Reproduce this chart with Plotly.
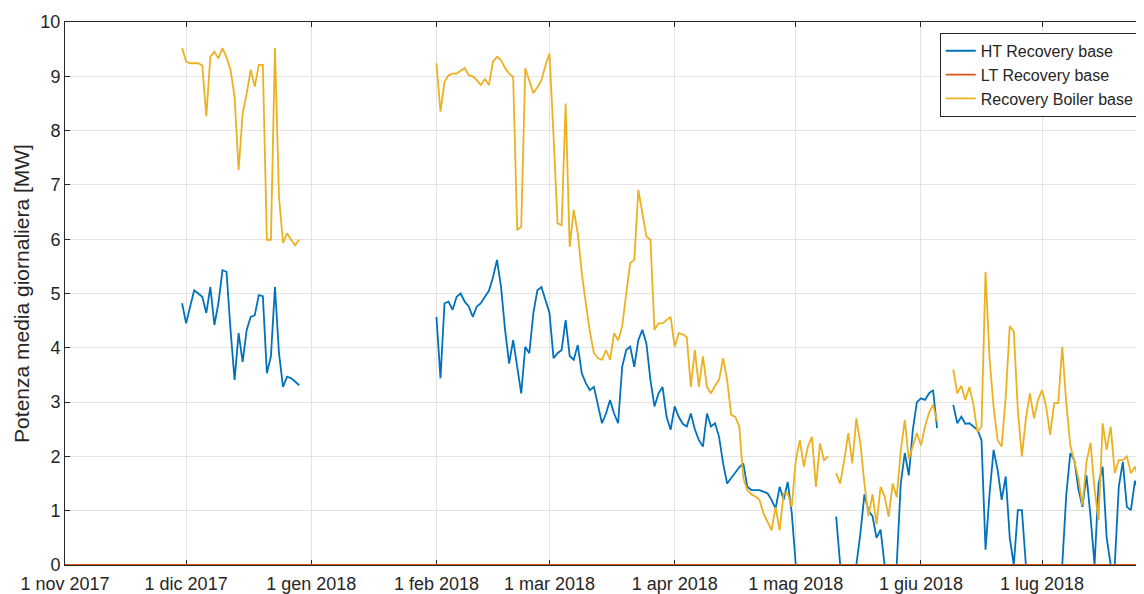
import pandas as pd
import plotly.graph_objects as go

# ---------------- data ----------------
# December block: daily values starting 2017-11-30
dec_start = "2017-11-30"
ht_dec = [4.82, 4.45, 4.76, 5.06, 5.0, 4.94, 4.64, 5.12, 4.42, 4.82,
          5.43, 5.4, 4.33, 3.41, 4.27, 3.74, 4.33, 4.57, 4.6, 4.97,
          4.95, 3.53, 3.84, 5.12, 3.9, 3.28, 3.47, 3.44, 3.38, 3.31]
boiler_dec = [9.52, 9.27, 9.24, 9.24, 9.24, 9.2, 8.26, 9.36, 9.45, 9.33,
              9.52, 9.35, 9.12, 8.62, 7.27, 8.32, 8.68, 9.12, 8.81, 9.21,
              9.21, 5.99, 5.99, 9.52, 6.78, 5.93, 6.11, 5.99, 5.89, 5.99]

# February-July block: daily values starting 2018-02-01 (None = missing)
feb_start = "2018-02-01"
ht_feb = [4.57, 3.44, 4.82, 4.85, 4.7, 4.94, 5.0, 4.85, 4.76, 4.57,
          4.76, 4.82, 4.94, 5.05, 5.3, 5.62, 5.12, 4.33, 3.71, 4.14,
          3.65, 3.16, 4.02, 3.9, 4.64, 5.06, 5.12, 4.9, 4.64, 3.81,
          3.9, 3.96, 4.51, 3.85, 3.78, 4.05, 3.53, 3.35, 3.22, 3.28,
          2.92, 2.61, 2.79, 3.04, 2.79, 2.61, 3.65, 3.96, 4.02, 3.65,
          4.14, 4.33, 4.08, 3.41, 2.92, 3.16, 3.28, 2.73, 2.49, 2.92,
          2.73, 2.6, 2.55, 2.79, 2.5, 2.3, 2.18, 2.79, 2.55, 2.61,
          2.36, 1.87, 1.5, 1.6, 1.7, 1.8, 1.87, 1.44, 1.38, 1.38,
          1.38, 1.35, 1.32, 1.2, 1.04, 1.44, 1.2, 1.53, 0.96, 0,
          0, 0, 0, 0, 0, 0, 0, 0, None, 0.89,
          0, 0, 0, 0, 0, 0.58, 1.3, 1.0, 0.9, 0.5,
          0.65, 0, 0, 0, 0, 1.5, 2.06, 1.65, 2.5, 3.0,
          3.07, 3.04, 3.16, 3.22, 2.52, None, None, None, 2.95, 2.61,
          2.73, 2.6, 2.61, 2.55, 2.49, 2.3, 0.28, 1.32, 2.12, 1.75,
          1.2, 1.63, 0.5, 0, 1.01, 1.01, 0, 0, 0, 0,
          0, 0, 0, 0, 0, 0, 1.3, 2.06, 1.93, 1.4,
          1.07, 1.65, 0.9, 0, 1.5, 1.81, 0.5, 0, 0, 1.44,
          1.9, 1.07, 1.01, 1.55, 1.35, 1.8]
boiler_feb = [9.24, 8.35, 8.9, 9.02, 9.05, 9.05, 9.1, 9.15, 9.02, 9.0,
              8.93, 8.84, 8.95, 8.84, 9.27, 9.36, 9.3, 9.15, 9.05, 8.99,
              6.17, 6.23, 9.15, 8.9, 8.69, 8.8, 8.93, 9.2, 9.42, 7.9,
              6.29, 6.26, 8.5, 5.86, 6.54, 6.11, 5.37, 4.82, 4.3, 3.9,
              3.81, 3.78, 3.96, 3.78, 4.27, 4.14, 4.39, 5.0, 5.56, 5.62,
              6.91, 6.48, 6.05, 5.99, 4.33, 4.45, 4.45, 4.51, 4.57, 4.02,
              4.27, 4.25, 4.2, 3.28, 3.96, 3.28, 3.84, 3.28, 3.16, 3.3,
              3.41, 3.81, 3.41, 2.76, 2.73, 2.55, 1.6, 1.38, 1.3, 1.26,
              1.2, 0.95, 0.8, 0.64, 1.07, 0.64, 1.32, 1.32, 1.07, 1.93,
              2.3, 1.81, 2.18, 2.36, 1.44, 2.24, 1.93, 2.0, None, 1.69,
              1.5, 1.93, 2.43, 1.87, 2.7, 2.24, 1.5, 0.9, 1.3, 0.75,
              1.44, 1.26, 0.89, 1.5, 1.25, 2.1, 2.67, 1.95, 2.2, 2.43,
              2.2, 2.55, 2.8, 2.95, 2.65, None, None, None, 3.6, 3.16,
              3.3, 3.04, 3.28, 2.95, 2.45, 2.55, 5.4, 3.8, 2.9, 2.3,
              2.18, 3.1, 4.4, 4.3, 2.85, 2.0, 2.7, 3.16, 2.7, 3.04,
              3.22, 2.92, 2.4, 2.98, 2.98, 4.02, 2.98, 2.2, 1.9, 1.6,
              1.1, 1.9, 2.25, 1.4, 0.83, 2.61, 2.12, 2.55, 1.69, 1.93,
              1.93, 2.0, 1.69, 1.81, 1.6, 1.8]

# LT recovery: zero over the whole period
lt_start = "2017-11-01"
lt_end = "2018-07-26"
lt_level = 0.0

tick_dates = ["2017-11-01", "2017-12-01", "2018-01-01", "2018-02-01", "2018-03-01",
              "2018-04-01", "2018-05-01", "2018-06-01", "2018-07-01"]
tick_labels = ["1 nov 2017", "1 dic 2017", "1 gen 2018", "1 feb 2018", "1 mar 2018",
               "1 apr 2018", "1 mag 2018", "1 giu 2018", "1 lug 2018"]
y_ticks = list(range(0, 11))

series_names = ["HT Recovery base", "LT Recovery base", "Recovery Boiler base"]
# --------------------------------------

def block_series(start, dec_vals, start2, feb_vals):
    s1 = pd.Series(dec_vals, index=pd.date_range(start, periods=len(dec_vals), freq="D"))
    s2 = pd.Series(feb_vals, index=pd.date_range(start2, periods=len(feb_vals), freq="D"), dtype=float)
    full_idx = pd.date_range(s1.index[0], s2.index[-1], freq="D")
    return pd.concat([s1, s2]).reindex(full_idx)

ht = block_series(dec_start, ht_dec, feb_start, ht_feb)
boiler = block_series(dec_start, boiler_dec, feb_start, boiler_feb)
lt_idx = pd.date_range(lt_start, lt_end, freq="D")
lt = pd.Series([lt_level] * len(lt_idx), index=lt_idx)

def vals(s):
    return [None if pd.isna(v) else float(v) for v in s.values]

colors = ["#0072BD", "#D95319", "#EDB120"]
FONT = "Liberation Sans, Arial, Helvetica, sans-serif"
TXT = "#262626"

fig = go.Figure()
for name, s, c in zip(series_names, [ht, lt, boiler], colors):
    fig.add_trace(go.Scatter(x=list(s.index), y=vals(s), mode="lines", name=name,
                             line=dict(color=c, width=1.8), connectgaps=False))

# page body has an 8px margin, so the figure is sized/offset to compensate
fig.update_layout(
    width=1136, height=586,
    margin=dict(l=57, r=1, t=14, b=29),
    paper_bgcolor="white", plot_bgcolor="white",
    font=dict(family=FONT, color=TXT, size=18),
    showlegend=True,
    legend=dict(x=0.997, y=0.98, xanchor="right", yanchor="top",
                bgcolor="white", bordercolor=TXT, borderwidth=1,
                font=dict(size=16, color=TXT), tracegroupgap=0,
                itemwidth=30),
    xaxis=dict(range=["2017-11-01", lt_end], tickvals=tick_dates, ticktext=tick_labels,
               showgrid=True, gridcolor="#e3e3e3", gridwidth=1,
               showline=True, linecolor=TXT, linewidth=1, mirror="ticks",
               ticks="inside", ticklen=5, tickcolor=TXT, zeroline=False,
               tickfont=dict(size=18, color=TXT), layer="below traces",
               automargin=False, ticklabelstandoff=2),
    yaxis=dict(range=[0, 10], tickvals=y_ticks, ticktext=[str(v) for v in y_ticks],
               showgrid=True, gridcolor="#e3e3e3", gridwidth=1,
               showline=True, linecolor=TXT, linewidth=1, mirror="ticks",
               ticks="inside", ticklen=5, tickcolor=TXT, zeroline=False,
               tickfont=dict(size=18, color=TXT), layer="below traces",
               automargin=False,
               title=dict(text="Potenza media giornaliera [MW]", font=dict(size=21, color=TXT),
                          standoff=5)),
)

fig.write_html("out.html")
